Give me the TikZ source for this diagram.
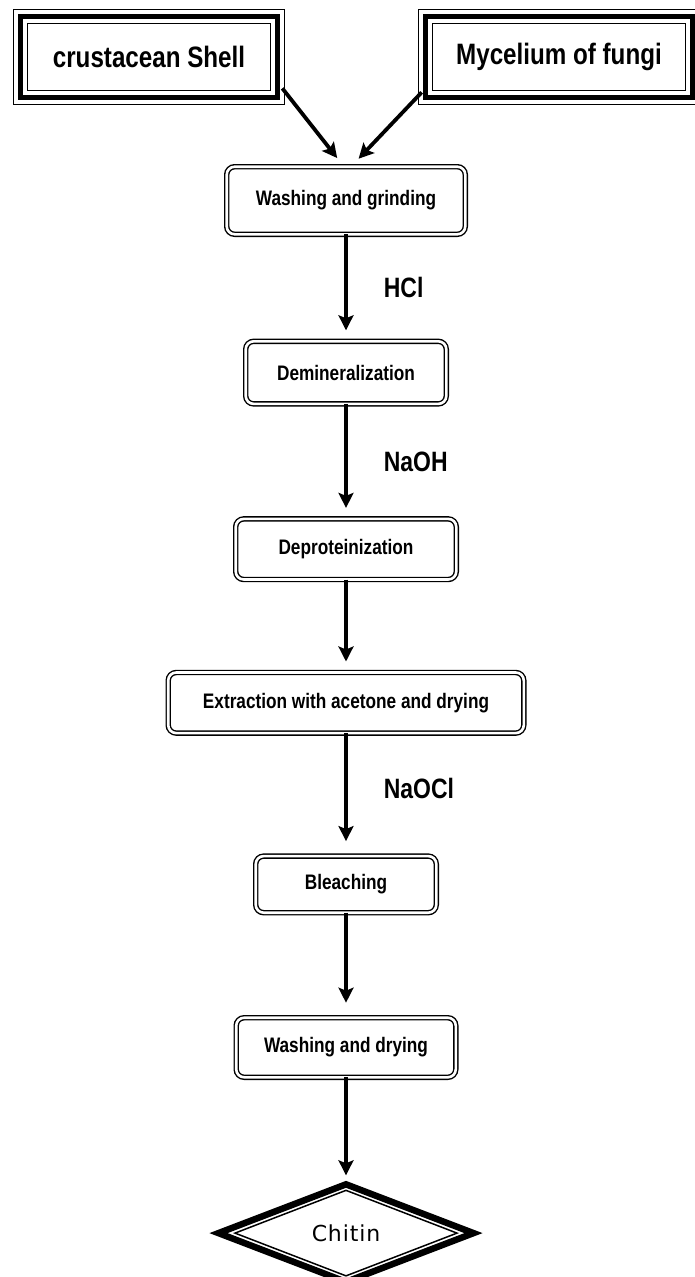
\documentclass[tikz,border=0pt]{standalone}
\usepackage{fontspec}
\setmainfont{Liberation Sans}
\newfontfamily\narrowfont{Liberation Sans}[FakeStretch=0.82]
\newfontfamily\spacedfont{DejaVu Sans}[LetterSpace=4]
\usetikzlibrary{arrows.meta, positioning, shapes.geometric}

\begin{document}
\begin{tikzpicture}[
            x = 1pt, y = 1pt, % one unit per pixel
            > = {Stealth[length=15pt, width=15pt, inset=3pt]}, % arrow head style
            shorten > = 11pt, % stop short of the next box
            line width = 3.8pt % arrow line style
        ]

        \tikzstyle{source}=[
            draw = black,
            line width = 15.3pt,
            postaction = {draw = white, line width = 12.7pt},
            postaction = {draw = black, line width = 5.3pt},
            minimum height = 80.7pt,
            outer sep = 0pt,
            font = \narrowfont\bfseries\fontsize{29.5}{34}\selectfont
        ]
        \tikzstyle{stage}=[
            draw = black,
            double = white,
            double distance = 2.6pt,
            line width = 1.4pt,
            rounded corners = 8pt,
            outer sep = 0pt,
            font = \narrowfont\bfseries\fontsize{21}{25}\selectfont
        ]
        \tikzstyle{reagent}=[
            right = 36pt,
            inner sep = 0pt,
            font = \narrowfont\bfseries\fontsize{28}{32}\selectfont
        ]
        \tikzstyle{product}=[
            diamond,
            draw = black,
            inner sep = 0pt,
            outer sep = 0pt
        ]

        \useasboundingbox (0, 0) rectangle (695, -1277);

        \node[source, minimum width = 256.7pt] (shell) at (149, -57) {crustacean Shell};
        \node[source, minimum width = 266.7pt] (fungi) at (559, -57) {Mycelium of fungi};

        \node[stage, minimum width = 238.6pt, minimum height = 67.6pt] (wg) at (346, -200.5) {Washing and grinding};
        \node[stage, minimum width = 200.6pt, minimum height = 62.6pt] (dm) [below = 107pt of wg] {Demineralization};
        \node[stage, minimum width = 220.6pt, minimum height = 60.6pt] (dp) [below = 115pt of dm] {Deproteinization};
        \node[stage, minimum width = 355.6pt, minimum height = 60.6pt] (ex) [below = 93pt of dp] {Extraction with acetone and drying};
        \node[stage, minimum width = 180.6pt, minimum height = 56.6pt] (bl) [below = 123pt of ex] {Bleaching};
        \node[stage, minimum width = 219.6pt, minimum height = 59.6pt] (wd) [below = 105pt of bl] {Washing and drying};
        \node[product, line width = 6.5pt, minimum width = 255pt, minimum height = 97.6pt] (chitin) [below = 107pt of wd] {};
        \node[product, line width = 1.5pt, minimum width = 222pt, minimum height = 80pt,
              font = \spacedfont\fontsize{22}{26}\selectfont] (chitinin) at (chitin) {Chitin};

        \path[->] ([xshift=5pt, yshift=9pt]shell.south east) edge ([xshift=-2pt]wg.north);
        \path[->] ([xshift=-4pt, yshift=5pt]fungi.south west) edge ([xshift=5pt]wg.north);
        \path[->] (wg) edge node[reagent] {HCl} (dm);
        \path[->] (dm) edge node[reagent] {NaOH} (dp);
        \path[->] (dp) edge (ex);
        \path[->] (ex) edge[shorten > = 15pt] node[reagent, pos = 0.45] {NaOCl} (bl);
        \path[->] (bl) edge[shorten > = 15pt] (wd);
        \path[->] (wd) edge[shorten > = 9pt] (chitin);

  \end{tikzpicture}
\end{document}
